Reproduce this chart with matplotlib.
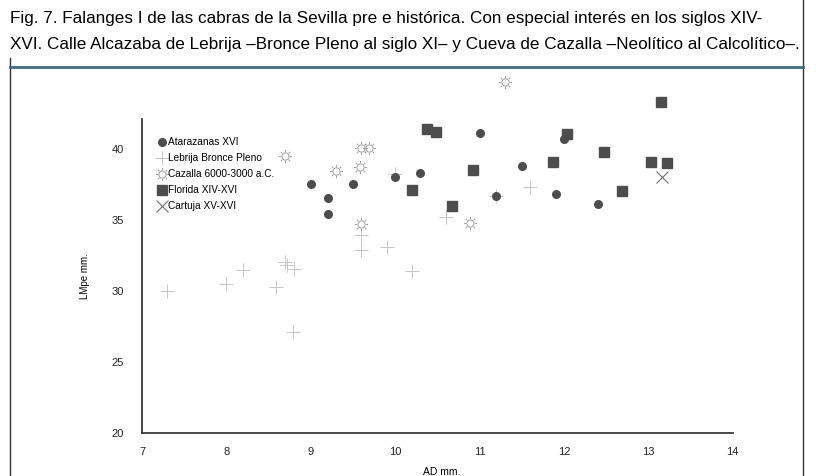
import matplotlib
matplotlib.use("Agg")
import matplotlib.pyplot as plt
from matplotlib.path import Path
from matplotlib.lines import Line2D
import numpy as np

# data (AD mm., LMpe mm.)
atarazanas_x = [9.0, 9.2, 9.2, 9.5, 10.0, 10.3, 11.0, 11.2, 11.5, 11.9, 12.0, 12.4]
atarazanas_y = [37.5, 36.5, 35.4, 37.5, 38.0, 38.3, 41.1, 36.7, 38.8, 36.8, 40.7, 36.1]

lebrija_x = [7.3, 8.0, 8.2, 8.59, 8.69, 8.72, 8.8, 8.79, 9.6, 9.6, 9.9, 10.0, 10.2, 10.6, 11.2, 11.6]
lebrija_y = [30.0, 30.5, 31.5, 30.3, 32.0, 31.8, 31.55, 27.1, 33.9, 32.9, 33.1, 38.2, 31.4, 35.2, 36.7, 37.3]

cazalla_x = [8.69, 9.3, 9.59, 9.69, 9.58, 9.59, 11.3, 10.89]
cazalla_y = [39.5, 38.4, 40.05, 40.05, 38.7, 34.7, 44.7, 34.8]

florida_x = [10.2, 10.38, 10.48, 10.67, 10.92, 11.87, 12.03, 12.47, 12.69, 13.03, 13.22, 13.15]
florida_y = [37.1, 41.4, 41.2, 36.0, 38.5, 39.1, 41.0, 39.8, 37.0, 39.1, 39.0, 43.3]

cartuja_x = [13.16]
cartuja_y = [38.0]

labels = ["Atarazanas XVI", "Lebrija Bronce Pleno", "Cazalla 6000-3000 a.C.",
          "Florida XIV-XVI", "Cartuja XV-XVI"]
xticks = [7, 8, 9, 10, 11, 12, 13, 14]
yticks = [20, 25, 30, 35, 40]

title1 = "Fig. 7. Falanges I de las cabras de la Sevilla pre e histórica. Con especial interés en los siglos XIV-"
title2 = "XVI. Calle Alcazaba de Lebrija \u2013Bronce Pleno al siglo XI\u2013 y Cueva de Cazalla \u2013Neolítico al Calcolítico\u2013."

plt.rcParams['font.family'] = ['Liberation Sans', 'DejaVu Sans']

# sun-like marker: ring plus 8 short rays
circ = Path.unit_circle()
circ = Path(circ.vertices * 0.55, circ.codes)
rays = []
for a in np.linspace(0, 2 * np.pi, 8, endpoint=False):
    rays.append(Path([(0.7 * np.cos(a), 0.7 * np.sin(a)), (np.cos(a), np.sin(a))],
                     [Path.MOVETO, Path.LINETO]))
sun = Path.make_compound_path(circ, *rays)

fig = plt.figure(figsize=(8.16, 4.76), dpi=100)
ax = fig.add_axes([0.174, 0.0903, 0.724, 0.66])

dark = "#4d4d4d"
ax.plot(lebrija_x, lebrija_y, ls="none", marker="+", ms=10, mew=0.7,
        color="#c4c4c4", clip_on=False, label=labels[1], zorder=2)
ax.plot(cazalla_x, cazalla_y, ls="none", marker=sun, ms=9.5, mew=0.7,
        mfc="none", mec="#9a9a9a", clip_on=False, label=labels[2], zorder=2)
ax.plot(atarazanas_x, atarazanas_y, ls="none", marker="o", ms=5.5,
        color=dark, clip_on=False, label=labels[0], zorder=3)
ax.plot(florida_x, florida_y, ls="none", marker="s", ms=6.8,
        color=dark, clip_on=False, label=labels[3], zorder=3)
ax.plot(cartuja_x, cartuja_y, ls="none", marker="x", ms=9, mew=0.8,
        color="#707070", clip_on=False, label=labels[4], zorder=3)

ax.set_xlim(7, 14)
ax.set_ylim(20, 42.1)
ax.set_xticks(xticks)
ax.set_yticks(yticks)
ax.tick_params(length=0, labelsize=8, colors="#222222")
ax.tick_params(axis="y", pad=13)
ax.tick_params(axis="x", pad=10)
for s in ["top", "right"]:
    ax.spines[s].set_visible(False)
for s in ["left", "bottom"]:
    ax.spines[s].set_color("#3a3a3a")
    ax.spines[s].set_linewidth(1.3)

ax.set_xlabel("AD mm.", fontsize=7.5)
ax.xaxis.set_label_coords((442 - 142) / 591, -(472 - 433) / 314)
ax.xaxis.label.set_va("center")
ax.set_ylabel("LMpe mm.", fontsize=7)
ax.yaxis.set_label_coords((85 - 142) / 591, 0.5)
ax.yaxis.label.set_va("center")

h, l = ax.get_legend_handles_labels()
hd = {lab: hh for hh, lab in zip(h, l)}
ax.legend([hd[x] for x in labels], labels, loc="upper left",
          bbox_to_anchor=(152 / 816, 1 - 132 / 476), bbox_transform=fig.transFigure,
          frameon=False, fontsize=7.3, handlelength=1.0, handletextpad=0.1,
          labelspacing=0.6, borderpad=0)

# frame and header
fig.add_artist(Line2D([10 / 816, 10 / 816], [0, 1 - 58 / 476], color="#333333", lw=1.0))
fig.add_artist(Line2D([803 / 816, 803 / 816], [0, 1], color="#333333", lw=1.0))
fig.add_artist(Line2D([10 / 816, 803 / 816], [1 - 67 / 476, 1 - 67 / 476],
                      color="#3f6b85", lw=2.0))

fig.text(10 / 816, 1 - 19 / 476, title1, fontsize=12.3, va="center", ha="left")
fig.text(10 / 816, 1 - 44 / 476, title2, fontsize=12.3, va="center", ha="left")

fig.savefig("out.png", dpi=100)
